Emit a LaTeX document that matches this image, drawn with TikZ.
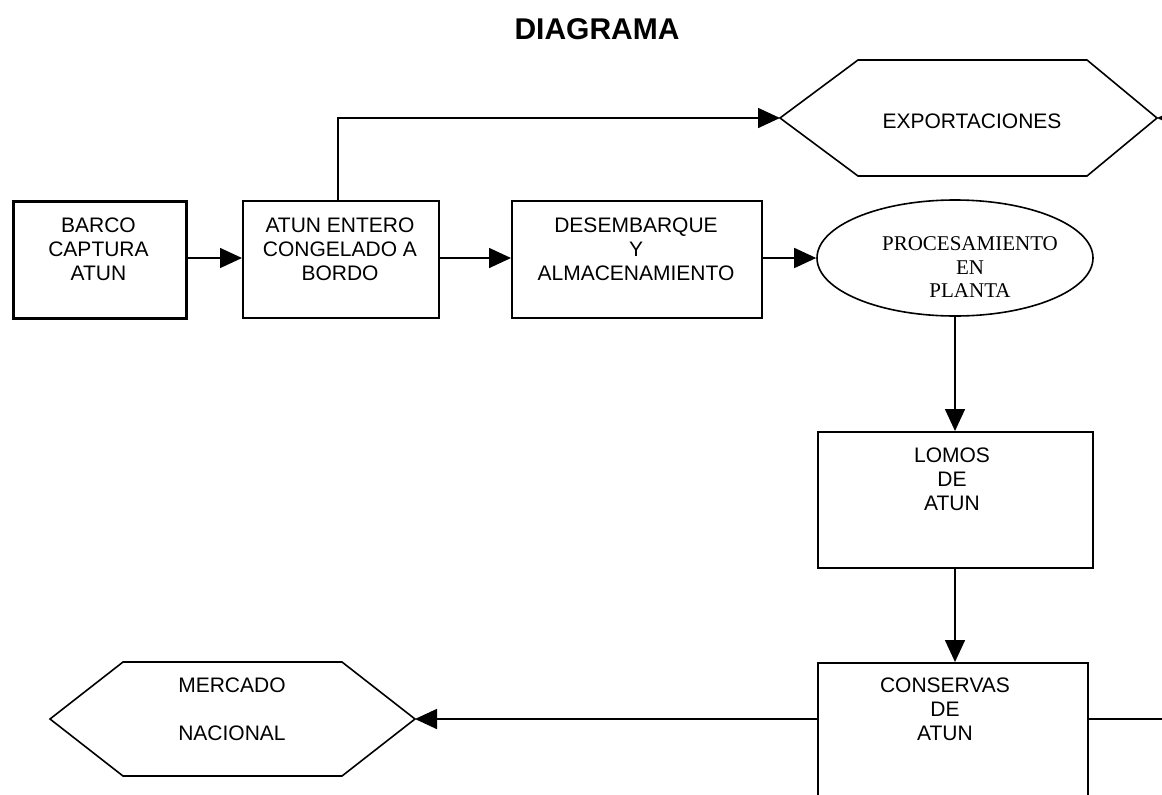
\documentclass[tikz,border=0pt]{standalone}
\usepackage{fontspec}
\setmainfont{Liberation Sans}
\newfontfamily\serifnf{Liberation Serif}
\usetikzlibrary{arrows.meta,shapes.geometric}
\begin{document}
\begin{tikzpicture}[x=1pt,y=-1pt,
  line width=1.6pt,
  box/.style={draw, rectangle, anchor=north west, inner sep=0pt},
  lbl/.style={align=center, inner sep=0pt, anchor=north, font=\fontsize{21}{24}\selectfont},
  arr/.style={-{Triangle[length=22pt,width=20pt]}},
]
\useasboundingbox (0,0) rectangle (1162,795);
\clip (0,0) rectangle (1162,795);

\node[font=\bfseries\fontsize{30}{36}\selectfont, anchor=base, inner sep=0pt] (title) at (597,39) {DIAGRAMA};

% boxes
\node[box, line width=2.6pt, minimum width=173pt, minimum height=117pt] (barco) at (12,200) {};
\node[lbl] (barcoT) at (98.5,217) {BARCO\\CAPTURA\\ATUN};

\node[box, minimum width=196pt, minimum height=117pt] (atun) at (242,200) {};
\node[lbl] (atunT) at (340,217) {ATUN ENTERO\\CONGELADO A\\BORDO};

\node[box, minimum width=250pt, minimum height=117pt] (desem) at (511,200) {};
\node[lbl] (desemT) at (636,217) {DESEMBARQUE\\Y\\ALMACENAMIENTO};

\node[draw, ellipse, inner sep=0pt, minimum width=276pt, minimum height=116pt] (proc) at (955,258) {};
\node[lbl, font=\serifnf\fontsize{21}{23.5}\selectfont] (procT) at (970,236) {PROCESAMIENTO\\EN\\PLANTA};

\node[box, minimum width=275pt, minimum height=136pt] (lomos) at (817,431) {};
\node[lbl] (lomosT) at (952,447) {LOMOS\\DE\\ATUN};

\node[box, minimum width=270pt, minimum height=170pt] (cons) at (817,662) {};
\node[lbl] (consT) at (945,677) {CONSERVAS\\DE\\ATUN};

% hexagons
\coordinate (exw) at (780,118);
\coordinate (exe) at (1157,118);
\draw (exw) -- (858,60) -- (1087,60) -- (exe) -- (1087,176) -- (858,176) -- cycle;
\node[lbl] (exT) at (972,113) {EXPORTACIONES};

\coordinate (mew) at (50,719);
\coordinate (mee) at (415,719);
\draw (mew) -- (123,662) -- (342,662) -- (mee) -- (342,776) -- (123,776) -- cycle;
\node[lbl] (meT) at (232,677) {MERCADO\\[24pt]NACIONAL};

% connectors
\draw[arr] (barco.east |- 0,258) -- (atun.west |- 0,258);
\draw[arr] (atun.east |- 0,258) -- (desem.west |- 0,258);
\draw[arr] (atun.north -| 338,0) -- (338,118) -- (exw);
\draw[arr] (desem.east |- 0,258) -- (proc.west);
\draw[arr] (proc.south) -- (lomos.north -| proc.south);
\draw[arr] (lomos.south -| proc.south) -- (cons.north -| proc.south);
\draw[arr] (cons.west |- 0,719) -- (mee);
\coordinate (rt) at (1200,719);
\draw[arr] (cons.east |- 0,719) -- (rt) -- (rt |- exe) -- (exe);
\end{tikzpicture}
\end{document}
